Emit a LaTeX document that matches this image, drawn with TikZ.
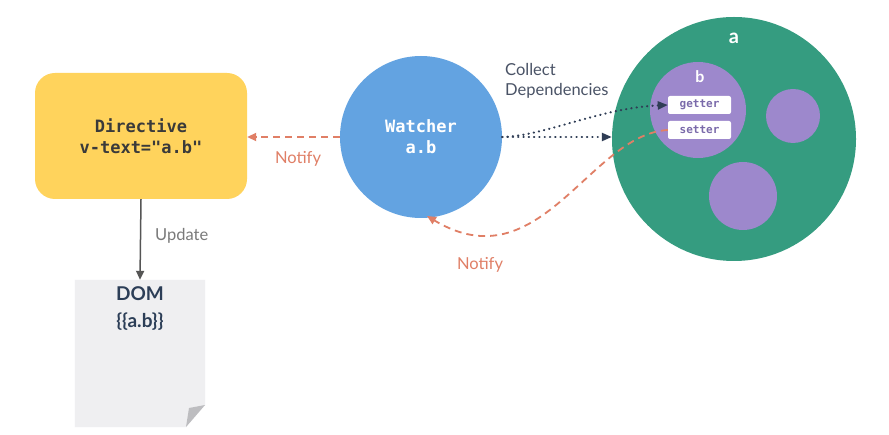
\documentclass[tikz,border=0pt]{standalone}
\usepackage{fontspec}
\setmainfont{Lato}
\newfontfamily\mono{DejaVu Sans Mono}
\usetikzlibrary{arrows.meta}
\definecolor{cyellow}{HTML}{FFD35C}
\definecolor{cblue}{HTML}{63A3E1}
\definecolor{cgreen}{HTML}{359C80}
\definecolor{cpurple}{HTML}{9D88CC}
\definecolor{csalmon}{HTML}{E07F66}
\definecolor{cnavy}{HTML}{2F3D55}
\definecolor{cpage}{HTML}{EFEFF1}
\definecolor{cfold}{HTML}{BDBDC0}
\definecolor{cdomtext}{HTML}{2C3E57}
\definecolor{cdirtext}{HTML}{3A3A3A}
\definecolor{clabel}{HTML}{4A5366}
\definecolor{cgray}{HTML}{555555}
\definecolor{cupd}{HTML}{7A7A7A}
\definecolor{cgettext}{HTML}{7A6AAA}
\begin{document}
\begin{tikzpicture}[x=1pt,y=1pt,
  lbl/.style={font=\fontsize{16.5}{20}\selectfont, inner sep=0pt},
  notifyarrow/.style={draw=csalmon, line width=1.8pt, dash pattern=on 7pt off 5pt, -{Triangle[length=9pt,width=8pt]}},
  dotarrow/.style={draw=cnavy, line width=2.2pt, line cap=round, dash pattern=on 0.3pt off 5pt, -{Triangle[length=10pt,width=8pt]}},
  propbox/.style={fill=white, rounded corners=2pt, minimum width=63pt, minimum height=18pt, inner sep=0pt, font=\mono\bfseries\fontsize{11}{12}\selectfont, text=cgettext},
  ]
\useasboundingbox (0,0) rectangle (889,434);
\fill[white] (0,0) rectangle (889,434);

% Directive box
\node[fill=cyellow, rounded corners=20pt, minimum width=212pt, minimum height=126pt, inner sep=0pt,
  font=\mono\bfseries\fontsize{17}{21}\selectfont, text=cdirtext, align=center] (dir) at (141,298)
  {Directive\\v-text="a.b"};

% Watcher circle
\node[circle, fill=cblue, minimum size=162pt, inner sep=0pt,
  font=\mono\bfseries\fontsize{17}{21}\selectfont, text=white, align=center] (w) at (421,297)
  {Watcher\\a.b};

% Object a
\node[circle, fill=cgreen, minimum size=244pt, inner sep=0pt] (a) at (734,295) {};
\node[font=\bfseries\fontsize{20}{22}\selectfont, text=white, inner sep=0pt] (alabel) at (734,396) {a};
\node[circle, fill=cpurple, minimum size=96pt, inner sep=0pt] (b) at (698,324) {};
\node[font=\bfseries\fontsize{16}{18}\selectfont, text=white, inner sep=0pt] (blabel) at (700,357) {b};
\node[circle, fill=cpurple, minimum size=54pt, inner sep=0pt] (c1) at (793,318) {};
\node[circle, fill=cpurple, minimum size=68pt, inner sep=0pt] (c2) at (743,238) {};
\node[propbox] (getter) at (699.5,329) {getter};
\node[propbox] (setter) at (699.5,304) {setter};

% DOM page
\node[minimum width=130pt, minimum height=147pt, inner sep=0pt] (dom) at (140,80.5) {};
\fill[cpage] (dom.north west) -- (dom.north east) -- (205,29) -- (186,7) -- (dom.south west) -- cycle;
\fill[cfold] (205,29) -- (189,26) -- (186,7) -- cycle;
\node[font=\bfseries\fontsize{19}{27}\selectfont, text=cdomtext, align=center, inner sep=0pt] (domtext) at (140,125)
  {DOM\\\{\{a.b\}\}};

% Update arrow
\draw[cgray, line width=1.5pt, -{Triangle[length=9pt,width=8pt]}] (dir.south) -- (dom.north);
\node[lbl, text=cupd, anchor=west] (upd) at (155,198) {Update};

% Notify to directive
\draw[notifyarrow] (w.west) -- (dir.east |- w.west);
\node[lbl, text=csalmon] (n1) at (298,275) {Notify};

% Collect dependencies
\node[lbl, text=clabel, anchor=north west, align=left, font=\fontsize{16.5}{20}\selectfont] (cd) at (505,371)
  {Collect\\Dependencies};
\draw[dotarrow] (w.east) -- (w.east -| a.west);
\draw[dotarrow] (w.east) .. controls (545,298) and (600,326) .. (getter.west);

% Notify from setter
\coordinate (wb) at (427,218);
\draw[notifyarrow] (setter.west) .. controls (590,300) and (540,150) .. (wb);
\node[lbl, text=csalmon] (n2) at (480,169) {Notify};
\end{tikzpicture}
\end{document}
